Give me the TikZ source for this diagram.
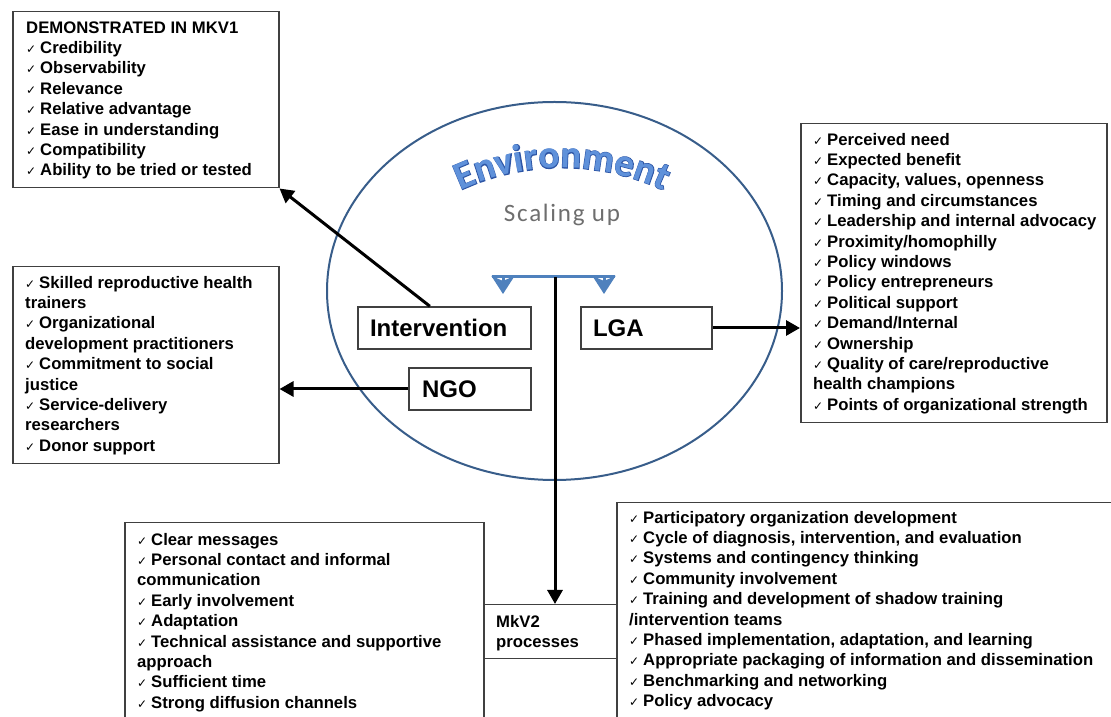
\documentclass[tikz,border=0pt]{standalone}
\usepackage{fontspec}
\setmainfont{Liberation Sans}
\newfontfamily\ckfont{DejaVu Sans}
\newfontfamily\envfill{Carlito Bold}
\newfontfamily\envedge{Carlito Bold}[FakeBold=3]
\newfontfamily\scalingfont{Carlito}[LetterSpace=7]
\usetikzlibrary{arrows.meta,calc,decorations.text}

\definecolor{boxline}{RGB}{64,64,64}
\definecolor{ringblue}{RGB}{56,93,138}
\definecolor{forkblue}{RGB}{79,129,189}
\definecolor{envlight}{RGB}{95,145,218}
\definecolor{envdark}{RGB}{45,85,165}
\definecolor{scalegray}{RGB}{110,110,110}

% check mark that opens each list item
\newcommand\ck{\strut\makebox[14pt][l]{\ckfont\fontsize{12pt}{12pt}\selectfont ✓}}

\tikzset{
  box/.style={draw=boxline, line width=1.5pt, fill=white, inner sep=0pt,
    anchor=north west, rectangle},
  list/.style={inner sep=0pt, anchor=north west, align=left,
    font=\fontsize{16.7pt}{20.4pt}\selectfont\bfseries},
  lbl/.style={draw=boxline, line width=1.5pt, fill=white, rectangle,
    minimum height=42pt, inner ysep=0pt, align=left,
    font=\fontsize{24pt}{28pt}\selectfont\bfseries},
  arr/.style={line width=3pt, -{Triangle[length=14pt,width=15pt]}},
  fork/.style={draw=forkblue, line width=3pt},
  forkhead/.style={fork, -{Stealth[length=18pt,width=23pt,inset=5pt]}},
}

\begin{document}
\begin{tikzpicture}[x=1pt,y=1pt]
\useasboundingbox (0,0) rectangle (1111,717);
\clip (0,0) rectangle (1111,717);
\fill[white] (0,0) rectangle (1111,717);

% the environment
\draw[ringblue, line width=2pt] (554.5,426) ellipse [x radius=227.5, y radius=189];

% arched title: a heavier dark copy underneath gives the outline
\coordinate (envarc) at (456.8,524.7);
\path[decorate, decoration={text along path, text align=center,
    text color=envdark,
    text={|\envedge\fontsize{39pt}{39pt}\selectfont|Environment}}]
  (envarc) arc[start angle=116, end angle=64, radius=240];
\path[decorate, decoration={text along path, text align=center,
    text color=envlight,
    text={|\envfill\fontsize{39pt}{39pt}\selectfont|Environment}}]
  (envarc) arc[start angle=116, end angle=64, radius=240];

\node[anchor=base, inner sep=0pt, text=scalegray,
  font=\scalingfont\fontsize{25pt}{28pt}\selectfont] (scaling) at (562,495) {Scaling up};

% actors inside the environment
\node[lbl, minimum width=173pt, text width=149pt, inner xsep=12pt] (intv) at (444.5,389) {Intervention};
\node[lbl, minimum width=131pt, text width=107pt, inner xsep=12pt] (lga) at (646.5,389) {LGA};
\node[lbl, minimum width=122pt, text width=96pt, inner xsep=13pt] (ngo) at (470,328) {NGO};

% list boxes
\node[box, minimum width=266pt, minimum height=176pt] (dem) at (12,706) {};
\node[list] (demtxt) at ($(dem.north west)+(14,-7.7)$) {\strut DEMONSTRATED IN MKV1\\
\ck Credibility\\
\ck Observability\\
\ck Relevance\\
\ck Relative advantage\\
\ck Ease in understanding\\
\ck Compatibility\\
\ck Ability to be tried or tested};

\node[box, minimum width=266pt, minimum height=197pt] (ngob) at (12,451) {};
\node[list] (ngotxt) at ($(ngob.north west)+(13,-7.7)$) {\ck Skilled reproductive health\\
\strut trainers\\
\ck Organizational\\
\strut development practitioners\\
\ck Commitment to social\\
\strut justice\\
\ck Service-delivery\\
\strut researchers\\
\ck Donor support};

\node[box, minimum width=306pt, minimum height=299pt] (lgab) at (800,594) {};
\node[list] (lgatxt) at ($(lgab.north west)+(13,-7.7)$) {\ck Perceived need\\
\ck Expected benefit\\
\ck Capacity, values, openness\\
\ck Timing and circumstances\\
\ck Leadership and internal advocacy\\
\ck Proximity/homophilly\\
\ck Policy windows\\
\ck Policy entrepreneurs\\
\ck Political support\\
\ck Demand/Internal\\
\ck Ownership\\
\ck Quality of care/reproductive\\
\strut health champions\\
\ck Points of organizational strength};

\node[box, minimum width=359pt, minimum height=240pt] (blb) at (124,195) {};
\node[list] (bltxt) at ($(blb.north west)+(13,-8.7)$) {\ck Clear messages\\
\ck Personal contact and informal\\
\strut communication\\
\ck Early involvement\\
\ck Adaptation\\
\ck Technical assistance and supportive\\
\strut approach\\
\ck Sufficient time\\
\ck Strong diffusion channels};

\node[box, minimum width=540pt, minimum height=260pt] (brb) at (616,215) {};
\node[list] (brtxt) at ($(brb.north west)+(13,-6.7)$) {\ck Participatory organization development\\
\ck Cycle of diagnosis, intervention, and evaluation\\
\ck Systems and contingency thinking\\
\ck Community involvement\\
\ck Training and development of shadow training\\
\strut /intervention teams\\
\ck Phased implementation, adaptation, and learning\\
\ck Appropriate packaging of information and dissemination\\
\ck Benchmarking and networking\\
\ck Policy advocacy};

\node[box, minimum width=133pt, minimum height=54pt] (mkv) at (483,113) {};
\node[list] (mkvtxt) at ($(mkv.north west)+(13,-8.7)$) {\strut MkV2\\\strut processes};

% blue fork splitting towards the two actors
\coordinate (forkL) at (492,440);
\coordinate (forkR) at (615,440);
\coordinate (headL) at (503,441);
\coordinate (headR) at (604,441);
\coordinate (tipL) at (503,423);
\coordinate (tipR) at (604,423);
\coordinate (stem) at (555,440);
\draw[fork] (forkL) -- (forkR);
\draw[forkhead] (headL) -- (tipL);
\draw[forkhead] (headR) -- (tipR);

% connectors
\coordinate (intvtop) at ($(intv.north west)!0.416!(intv.north east)$);
\draw[arr] (intvtop) -- (dem.south east);
\draw[arr] (lga.east) -- (lga.east -| lgab.west);
\draw[arr] (ngo.west) -- (ngo.west -| ngob.east);
\draw[arr] (stem) -- (stem |- mkv.north);
\end{tikzpicture}
\end{document}
